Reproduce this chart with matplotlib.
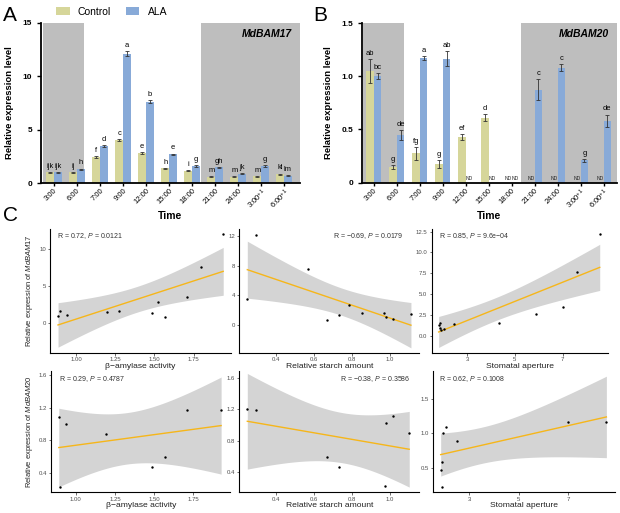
import numpy as np
import matplotlib
matplotlib.use('Agg')
import matplotlib.pyplot as plt

plt.rcParams['font.family'] = ['Liberation Sans', 'DejaVu Sans']
plt.rcParams['mathtext.fontset'] = 'custom'
plt.rcParams['mathtext.rm'] = 'Liberation Sans'
plt.rcParams['mathtext.it'] = 'Liberation Sans:italic'
plt.rcParams['mathtext.bf'] = 'Liberation Sans:bold'

# ---- data ----
times = ['3:00', '6:00', '7:00', '9:00', '12:00', '15:00', '18:00', '21:00', '24:00',
         '3:00$^{+1}$', '6:00$^{+1}$']

bam17_ctrl = [1.0, 1.0, 2.45, 4.0, 2.8, 1.37, 1.15, 0.6, 0.6, 0.65, 0.85]
bam17_ctrl_err = [0.05, 0.05, 0.06, 0.08, 0.1, 0.05, 0.05, 0.05, 0.04, 0.04, 0.05]
bam17_ala = [1.0, 1.3, 3.45, 12.1, 7.6, 2.7, 1.6, 1.47, 0.9, 1.6, 0.7]
bam17_ala_err = [0.05, 0.06, 0.08, 0.25, 0.15, 0.06, 0.05, 0.06, 0.05, 0.05, 0.05]
bam17_ctrl_lab = ['ijk', 'ij', 'f', 'c', 'e', 'h', 'i', 'm', 'm', 'm', 'kl']
bam17_ala_lab = ['ijk', 'h', 'd', 'a', 'b', 'e', 'g', 'gh', 'jk', 'g', 'lm']

# None = not detected (ND)
bam20_ctrl = [1.05, 0.145, 0.275, 0.175, 0.43, 0.61, None, None, None, None, None]
bam20_ctrl_err = [0.11, 0.02, 0.06, 0.04, 0.03, 0.035, 0, 0, 0, 0, 0]
bam20_ala = [1.0, 0.45, 1.17, 1.165, None, None, None, 0.875, 1.08, 0.21, 0.58]
bam20_ala_err = [0.03, 0.045, 0.02, 0.07, 0, 0, 0, 0.1, 0.035, 0.015, 0.06]
bam20_ctrl_lab = ['ab', 'g', 'fg', 'g', 'ef', 'd', '', '', '', '', '']
bam20_ala_lab = ['bc', 'de', 'a', 'ab', '', '', '', 'c', 'c', 'g', 'de']

# correlation panels
amy_17 = [0.883, 0.898, 0.942, 1.194, 1.275, 1.485, 1.52, 1.57, 1.71, 1.80, 1.94]
amy_17_y = [0.91, 1.6, 1.0, 1.5, 1.6, 1.37, 2.78, 0.78, 3.5, 7.6, 12.1]
starch_17 = [0.249, 0.293, 0.567, 0.67, 0.733, 0.784, 0.853, 0.97, 0.98, 1.016, 1.109]
starch_17_y = [3.5, 12.1, 7.6, 0.72, 1.36, 2.7, 1.58, 1.58, 1.04, 0.9, 1.47]
stoma_17 = [1.81, 1.88, 1.88, 1.90, 2.05, 2.47, 4.33, 5.91, 7.0, 7.6, 8.56]
stoma_17_y = [1.32, 1.6, 0.96, 0.72, 0.88, 1.44, 1.6, 2.67, 3.47, 7.6, 12.2]

amy_20 = [0.891, 0.90, 0.94, 1.19, 1.485, 1.57, 1.71, 1.93]
amy_20_y = [1.087, 0.23, 1.0, 0.876, 0.47, 0.59, 1.18, 1.17]
starch_20 = [0.249, 0.293, 0.667, 0.73, 0.975, 0.98, 1.013, 1.10]
starch_20_y = [1.2, 1.19, 0.59, 0.47, 0.22, 1.02, 1.11, 0.9]
stoma_20 = [1.84, 1.90, 1.90, 1.93, 2.06, 2.49, 6.97, 8.54]
stoma_20_y = [0.46, 0.22, 0.58, 1.0, 1.09, 0.88, 1.17, 1.165]

cor_text = [r'R = 0.72, $\it{P}$ = 0.0121', r'R = −0.69, $\it{P}$ = 0.0179',
            r'R = 0.85, $\it{P}$ = 9.6e−04', r'R = 0.29, $\it{P}$ = 0.4787',
            r'R = −0.38, $\it{P}$ = 0.3586', r'R = 0.62, $\it{P}$ = 0.1008']

c_ctrl = '#d6d69a'
c_ala = '#88aad8'
c_shade = '#bebebe'

fig = plt.figure(figsize=(6.2, 5.13), dpi=100)


def bar_panel(ax, ctrl, ctrl_err, ala, ala_err, lab_c, lab_a, ymax, yticks, yticklabels,
              xlim, shades, gene, lab_off):
    x = np.arange(len(times))
    for s0, s1 in shades:
        ax.axvspan(s0, s1, color=c_shade, lw=0, zorder=0)
    w = 0.33
    for vals, errs, labs, off, col, name in [(ctrl, ctrl_err, lab_c, -w / 2, c_ctrl, 'Control'),
                                            (ala, ala_err, lab_a, w / 2, c_ala, 'ALA')]:
        h = [v if v is not None else 0 for v in vals]
        ax.bar(x + off, h, width=w, color=col, zorder=2, label=name)
        for i, v in enumerate(vals):
            if v is None:
                ax.text(x[i] + off, ymax * 0.012, 'ND', fontsize=3.6, ha='center', va='bottom',
                        color='#222222', zorder=3)
                continue
            ax.errorbar(x[i] + off, v, yerr=errs[i], fmt='none', ecolor='#333333',
                        elinewidth=0.6, capsize=1.4, capthick=0.6, zorder=3)
            if labs[i]:
                ax.text(x[i] + off, v + errs[i] + lab_off, labs[i], fontsize=5.4,
                        ha='center', va='bottom', zorder=3)
    ax.set_xlim(*xlim)
    ax.set_ylim(0, ymax)
    ax.set_yticks(yticks)
    ax.set_yticklabels(yticklabels, fontsize=6, fontweight='bold')
    ax.set_xticks(x)
    ax.set_xticklabels(times, rotation=45, ha='right', rotation_mode='anchor', fontsize=5.5)
    for s in ['top', 'right']:
        ax.spines[s].set_visible(False)
    for s in ['left', 'bottom']:
        ax.spines[s].set_linewidth(1.3)
    ax.tick_params(axis='both', width=1.0, length=3)
    ax.tick_params(axis='x', length=2, pad=1)
    ax.set_xlabel('Time', fontsize=7.5, fontweight='bold', labelpad=0)
    ax.set_ylabel('Relative expression level', fontsize=6.8, fontweight='bold', labelpad=6)
    ax.text(0.97, 0.93, gene, transform=ax.transAxes, fontsize=7.5, fontweight='bold',
            fontstyle='italic', ha='right', va='center')


axA = fig.add_axes([0.066, 0.643, 0.418, 0.313])
bar_panel(axA, bam17_ctrl, bam17_ctrl_err, bam17_ala, bam17_ala_err, bam17_ctrl_lab, bam17_ala_lab,
          15, [0, 5, 10, 15], ['0', '5', '10', '15'], (-0.565, 10.7),
          [(-0.48, 1.3), (6.4, 10.7)], 'MdBAM17', 0.2)

axB = fig.add_axes([0.584, 0.644, 0.411, 0.311])
bar_panel(axB, bam20_ctrl, bam20_ctrl_err, bam20_ala, bam20_ala_err, bam20_ctrl_lab, bam20_ala_lab,
          1.5, [0, 0.5, 1.0, 1.5], ['0', '0.5', '1.0', '1.5'], (-0.51, 10.58),
          [(-0.47, 1.31), (6.4, 10.58)], 'MdBAM20', 0.02)

handles, labels = axA.get_legend_handles_labels()
fig.legend(handles, labels, loc='upper center', bbox_to_anchor=(0.18, 1.005), ncol=2,
           frameon=False, fontsize=7.5, handlelength=1.3, handleheight=0.8, columnspacing=1.4,
           handletextpad=0.8)

fig.text(0.005, 0.97, 'A', fontsize=15, va='center')
fig.text(0.505, 0.97, 'B', fontsize=15, va='center')
fig.text(0.005, 0.58, 'C', fontsize=15, va='center')


def cor_panel(rect, x, y, tval, xlim, ylim, xticks, xticklabels, yticks, yticklabels,
              xlabel, text, tx, ylabel=None):
    ax = fig.add_axes(rect)
    x = np.array(x)
    y = np.array(y)
    n = len(x)
    b, a = np.polyfit(x, y, 1)
    xs = np.linspace(x.min(), x.max(), 80)
    yh = a + b * xs
    res = y - (a + b * x)
    s = np.sqrt(np.sum(res ** 2) / (n - 2))
    sxx = np.sum((x - x.mean()) ** 2)
    se = s * np.sqrt(1.0 / n + (xs - x.mean()) ** 2 / sxx)
    ax.fill_between(xs, yh - tval * se, yh + tval * se, color='#d4d4d4', lw=0, zorder=1)
    ax.plot(xs, yh, color='#f6b61a', lw=1.0, zorder=2)
    ax.scatter(x, y, s=3, color='black', zorder=3, linewidths=0)
    ax.set_xlim(*xlim)
    ax.set_ylim(*ylim)
    ax.set_xticks(xticks)
    ax.set_xticklabels(xticklabels)
    ax.set_yticks(yticks)
    ax.set_yticklabels(yticklabels)
    for sp in ['top', 'right']:
        ax.spines[sp].set_visible(False)
    for sp in ['left', 'bottom']:
        ax.spines[sp].set_linewidth(0.8)
    ax.tick_params(axis='both', labelsize=4.3, labelcolor='#4d4d4d', length=1.8, width=0.5,
                   pad=1.2, color='#333333')
    ax.set_xlabel(xlabel, fontsize=6.1, labelpad=0.5, color='#222222')
    if ylabel:
        ax.set_ylabel(ylabel, fontsize=5.4, labelpad=3, color='#222222')
    ax.text(tx, 0.94, text, transform=ax.transAxes, fontsize=5.0, color='#333333',
            va='center', ha='left')
    return ax


top = [0.3125, 0.2411]
bot = [0.04, 0.236]

cor_panel([0.081, top[0], 0.2916, top[1]], amy_17, amy_17_y, 2.262, (0.833, 1.99), (-4.1, 12.8),
          [1.0, 1.25, 1.5, 1.75], ['1.00', '1.25', '1.50', '1.75'], [0, 5, 10], ['0', '5', '10'],
          'β−amylase activity', cor_text[0], 0.04, r'Relative expression of $\it{MdBAM17}$')
cor_panel([0.386, top[0], 0.290, top[1]], starch_17, starch_17_y, 2.262, (0.207, 1.152), (-3.7, 12.95),
          [0.4, 0.6, 0.8, 1.0], ['0.4', '0.6', '0.8', '1.0'], [0, 4, 8, 12], ['0', '4', '8', '12'],
          'Relative starch amount', cor_text[1], 0.52)
cor_panel([0.696, top[0], 0.284, top[1]], stoma_17, stoma_17_y, 2.262, (1.51, 8.89), (-2.0, 12.8),
          [3, 5, 7], ['3', '5', '7'], [0, 2.5, 5, 7.5, 10, 12.5],
          ['0.0', '2.5', '5.0', '7.5', '10.0', '12.5'],
          'Stomatal aperture', cor_text[2], 0.043)

cor_panel([0.083, bot[0], 0.288, bot[1]], amy_20, amy_20_y, 2.447, (0.844, 1.987), (0.158, 1.65),
          [1.0, 1.25, 1.5, 1.75], ['1.00', '1.25', '1.50', '1.75'], [0.4, 0.8, 1.2, 1.6],
          ['0.4', '0.8', '1.2', '1.6'],
          'β−amylase activity', cor_text[3], 0.04, r'Relative expression of $\it{MdBAM20}$')
cor_panel([0.386, bot[0], 0.290, bot[1]], starch_20, starch_20_y, 2.447, (0.207, 1.152), (0.143, 1.68),
          [0.4, 0.6, 0.8, 1.0], ['0.4', '0.6', '0.8', '1.0'], [0.4, 0.8, 1.2, 1.6],
          ['0.4', '0.8', '1.2', '1.6'],
          'Relative starch amount', cor_text[4], 0.56)
cor_panel([0.698, bot[0], 0.294, bot[1]], stoma_20, stoma_20_y, 2.447, (1.52, 8.89), (0.137, 1.9),
          [3, 5, 7], ['3', '5', '7'], [0.5, 1.0, 1.5], ['0.5', '1.0', '1.5'],
          'Stomatal aperture', cor_text[5], 0.036)

fig.savefig('out.png', dpi=100)
